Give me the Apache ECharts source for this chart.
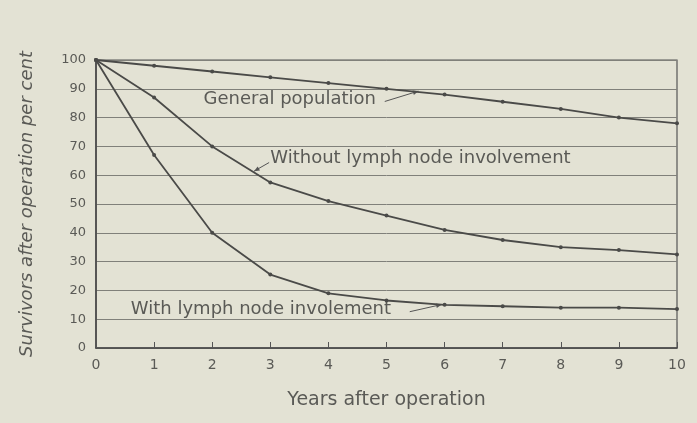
<!DOCTYPE html>
<html>
<head>
<meta charset="utf-8">
<script src="https://cdn.jsdelivr.net/npm/echarts@6/dist/echarts.min.js"></script>
<style>
  html, body { margin: 0; padding: 0; background: #e3e2d4; }
  #chart { width: 697px; height: 423px; }
</style>
</head>
<body>
<div id="chart"></div>
<script>
// years after operation
var years = [0, 1, 2, 3, 4, 5, 6, 7, 8, 9, 10];
// survivors, per cent
var generalPopulation = [100, 98, 96, 94, 92, 90, 88, 85.5, 83, 80, 78];
var withoutLymph = [100, 87, 70, 57.5, 51, 46, 41, 37.5, 35, 34, 32.5];
var withLymph = [100, 67, 40, 25.5, 19, 16.5, 15, 14.5, 14, 14, 13.5];

// annotation texts: label anchor and arrow (data coords)
var notes = [
  { text: 'General population', at: [1.85, 85.6], from: [4.97, 85.6], to: [5.55, 89.2] },
  { text: 'Without lymph node involvement', at: [3.0, 65.3], from: [2.98, 64.4], to: [2.72, 61.4] },
  { text: 'With lymph node involement', at: [0.6, 12.6], from: [5.4, 12.6], to: [5.95, 15.1] }
];

var lineColor = '#4a4a48';
var textColor = '#5a5a56';
var fontFamily = 'DejaVu Sans';

function toPairs(arr) {
  return arr.map(function (v, i) { return [years[i], v]; });
}

function makeSeries(name, arr) {
  return {
    name: name,
    type: 'line',
    data: toPairs(arr),
    symbol: 'circle',
    symbolSize: 4,
    lineStyle: { color: lineColor, width: 1.8 },
    itemStyle: { color: lineColor },
    animation: false
  };
}

var chart = echarts.init(document.getElementById('chart'));
chart.setOption({
  backgroundColor: '#e3e2d4',
  animation: false,
  grid: {
    left: 96, right: 20, top: 60, bottom: 75,
    show: true, borderColor: '#555', borderWidth: 1.2
  },
  xAxis: {
    type: 'value', min: 0, max: 10, interval: 1,
    name: 'Years after operation',
    nameLocation: 'middle', nameGap: 43,
    nameTextStyle: { color: textColor, fontSize: 19, fontFamily: fontFamily },
    axisLine: { lineStyle: { color: '#444', width: 1.5 } },
    axisTick: { inside: true, length: 6, lineStyle: { color: '#555' } },
    axisLabel: { color: textColor, fontSize: 14, fontFamily: fontFamily, margin: 10 },
    splitLine: { show: false }
  },
  yAxis: {
    type: 'value', min: 0, max: 100, interval: 10,
    name: 'Survivors after operation per cent',
    nameLocation: 'middle', nameGap: 60,
    nameTextStyle: { color: textColor, fontSize: 18, fontStyle: 'italic', fontFamily: fontFamily },
    axisLine: { show: true, lineStyle: { color: '#444', width: 1.5 } },
    axisTick: { show: false },
    axisLabel: { color: textColor, fontSize: 13, fontFamily: fontFamily, margin: 10 },
    splitLine: { lineStyle: { color: '#80807a', width: 1 } }
  },
  series: [
    makeSeries('General population', generalPopulation),
    makeSeries('Without lymph node involvement', withoutLymph),
    makeSeries('With lymph node involement', withLymph)
  ]
});

// annotation labels and small arrows, placed from data coordinates
var elements = [];
notes.forEach(function (n) {
  var p = chart.convertToPixel({ gridIndex: 0 }, n.at);
  var a = chart.convertToPixel({ gridIndex: 0 }, n.from);
  var b = chart.convertToPixel({ gridIndex: 0 }, n.to);
  elements.push({
    type: 'text', left: p[0], top: p[1] - 11,
    style: { text: n.text, fill: textColor, fontSize: 18, fontFamily: fontFamily }
  });
  elements.push({
    type: 'line',
    shape: { x1: a[0], y1: a[1], x2: b[0], y2: b[1] },
    style: { stroke: '#555', lineWidth: 1 }
  });
  var ang = Math.atan2(b[1] - a[1], b[0] - a[0]);
  var L = 6;
  elements.push({
    type: 'polygon',
    shape: { points: [
      [b[0], b[1]],
      [b[0] - L * Math.cos(ang - 0.4), b[1] - L * Math.sin(ang - 0.4)],
      [b[0] - L * Math.cos(ang + 0.4), b[1] - L * Math.sin(ang + 0.4)]
    ] },
    style: { fill: '#555' }
  });
});
chart.setOption({ graphic: elements });
</script>
</body>
</html>
